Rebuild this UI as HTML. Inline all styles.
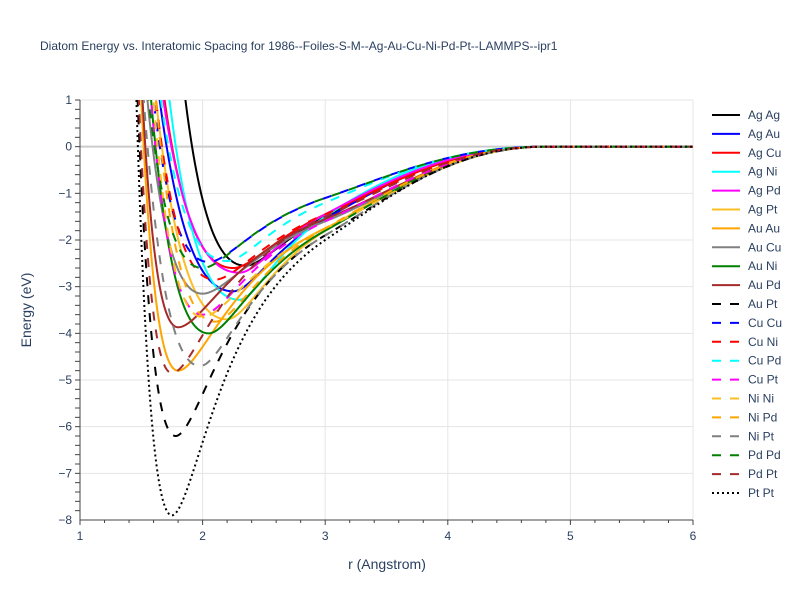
<!DOCTYPE html>
<html><head><meta charset="utf-8"><style>
body{margin:0;background:#fff;font-family:"Liberation Sans",sans-serif}
svg text{font-family:"Liberation Sans",sans-serif;fill:#2a3f5f}
</style></head><body>
<svg id="c" width="800" height="600">
<rect width="800" height="600" fill="#fff"/>
<text x="40" y="50" font-size="12">Diatom Energy vs. Interatomic Spacing for 1986--Foiles-S-M--Ag-Au-Cu-Ni-Pd-Pt--LAMMPS--ipr1</text>
<defs><clipPath id="cp"><rect x="80" y="100" width="613" height="420"/></clipPath></defs>
<g id="grid"></g><g id="series" clip-path="url(#cp)"></g><g id="axes"></g><g id="legend"></g>
<text x="387" y="569" font-size="14" text-anchor="middle">r (Angstrom)</text>
<text transform="translate(31,310) rotate(-90)" font-size="14" text-anchor="middle">Energy (eV)</text>
</svg>
<script>
const names=["Ag Ag","Ag Au","Ag Cu","Ag Ni","Ag Pd","Ag Pt","Au Au","Au Cu","Au Ni","Au Pd","Au Pt","Cu Cu","Cu Ni","Cu Pd","Cu Pt","Ni Ni","Ni Pd","Ni Pt","Pd Pd","Pd Pt","Pt Pt"];
const colors=["#000","#00f","#f00","#0ff","#f0f","#fbbf24","#ffa500","#808080","#008000","#a52a2a","#000","#00f","#f00","#0ff","#f0f","#fbbf24","#ffa500","#808080","#008000","#a52a2a","#000"];
const dashes=["s","s","s","s","s","s","s","s","s","s","d","d","d","d","d","d","d","d","d","d","o"];
const r0=[2.35,2.25,2.25,2.3,2.3,2.2,1.8,2.0,2.05,1.8,1.78,2.05,2.1,2.2,2.0,2.0,2.1,1.98,2.0,1.75,1.75];
const depth=[2.55,3.1,2.6,3.28,2.7,3.7,4.8,3.15,4.0,3.87,6.2,2.47,2.85,2.45,3.6,3.65,3.75,4.7,2.6,4.85,7.9];
const e3=[-1.5,-1.55,-1.45,-1.5,-1.45,-1.8,-1.75,-1.6,-1.8,-1.55,-1.9,-1.1,-1.45,-1.2,-1.6,-1.75,-1.75,-1.9,-1.1,-1.5,-2.0];
const rwall=[1.86,1.65,1.69,1.73,1.68,1.62,1.5,1.55,1.58,1.51,1.47,1.6,1.62,1.66,1.58,1.6,1.62,1.52,1.56,1.48,1.46];
const xTicks=[1,2,3,4,5,6];
const yTicks=[1,0,-1,-2,-3,-4,-5,-6,-7,-8];
const X=r=>80+(r-1)*(613/5);
const Y=e=>100+(1-e)*(420/9);
const NS="http://www.w3.org/2000/svg";
const mk=(t,a,p)=>{const e=document.createElementNS(NS,t);for(const k in a)e.setAttribute(k,a[k]);p.appendChild(e);return e;};
const grid=document.getElementById('grid'),axes=document.getElementById('axes'),ser=document.getElementById('series'),leg=document.getElementById('legend');
xTicks.forEach(v=>{
 const l=mk('line',{x1:X(v),x2:X(v),y1:100,y2:520,stroke:'#e5e5e5'},grid);
 
 
 const t=mk('text',{x:X(v),y:540,'font-size':12,'text-anchor':'middle'},axes);t.textContent=v;
 
 
});
for(let v=1;v<=6.001;v+=0.2){mk('line',{x1:X(v),x2:X(v),y1:520,y2:Math.abs(v-Math.round(v))<0.01?525:523,stroke:'#444'},axes);}
yTicks.forEach(v=>{
 const l=mk('line',{x1:80,x2:693,y1:Y(v),y2:Y(v),stroke:v===0?'#ccc':'#e5e5e5','stroke-width':v===0?2:1},grid);
 
 
 const t=mk('text',{x:72,y:Y(v)+4,'font-size':12,'text-anchor':'end'},axes);t.textContent=v===0?'0':(v<0?'\u2212'+(-v):v);
 
 
});
for(let v=1;v>=-8;v-=0.2){mk('line',{x1:80,x2:75,y1:Y(v),y2:Y(v),stroke:'#444'},axes);}
mk('line',{x1:80,x2:80,y1:100,y2:520,stroke:'#444'},axes);
mk('line',{x1:80,x2:693,y1:520,y2:520,stroke:'#444'},axes);
function dashArr(d){return d==='d'?'9,9':d==='o'?'2,3':'none';}
const B=0.54;
function taper(r){if(r<=3)return 1;if(r>=4.8)return 0;return 0.5*(1+Math.cos(Math.PI*(r-3)/1.8));}
names.forEach((n,i)=>{
 const D=depth[i],R=r0[i];
 const dr3=3-R;
 const u3=-Math.log(1-Math.sqrt(Math.max(0.001,1+e3[i]/D)));
 const aR=u3*(1+B*dr3)/dr3;
 const aL=Math.log(1+Math.sqrt(1+1/D))/(R-rwall[i]);
 let p='';
 for(let r=1.3;r<=6.0001;r+=0.005){
  const dr=r-R;
  const u=r<R?aL*dr:aR*dr/(1+B*dr);
  const x=Math.exp(-u);
  let e=D*((1-x)*(1-x)-1);
  if(r>R)e*=taper(r);
  if(e>3)e=3;
  p+=(p?'L':'M')+X(r).toFixed(2)+','+Y(e).toFixed(2);
 }
 const el=mk('path',{d:p,fill:'none',stroke:colors[i],'stroke-width':2,'stroke-dasharray':dashArr(dashes[i])},ser);
 
 
 const y=115+i*18.9;
 const g=mk('g',{},leg);
 
 
 mk('line',{x1:712,x2:740,y1:y,y2:y,stroke:colors[i],'stroke-width':2,'stroke-dasharray':dashArr(dashes[i])},g);
 const t=mk('text',{x:748,y:y+4,'font-size':12},g);t.textContent=n;
});
</script>
</body></html>
